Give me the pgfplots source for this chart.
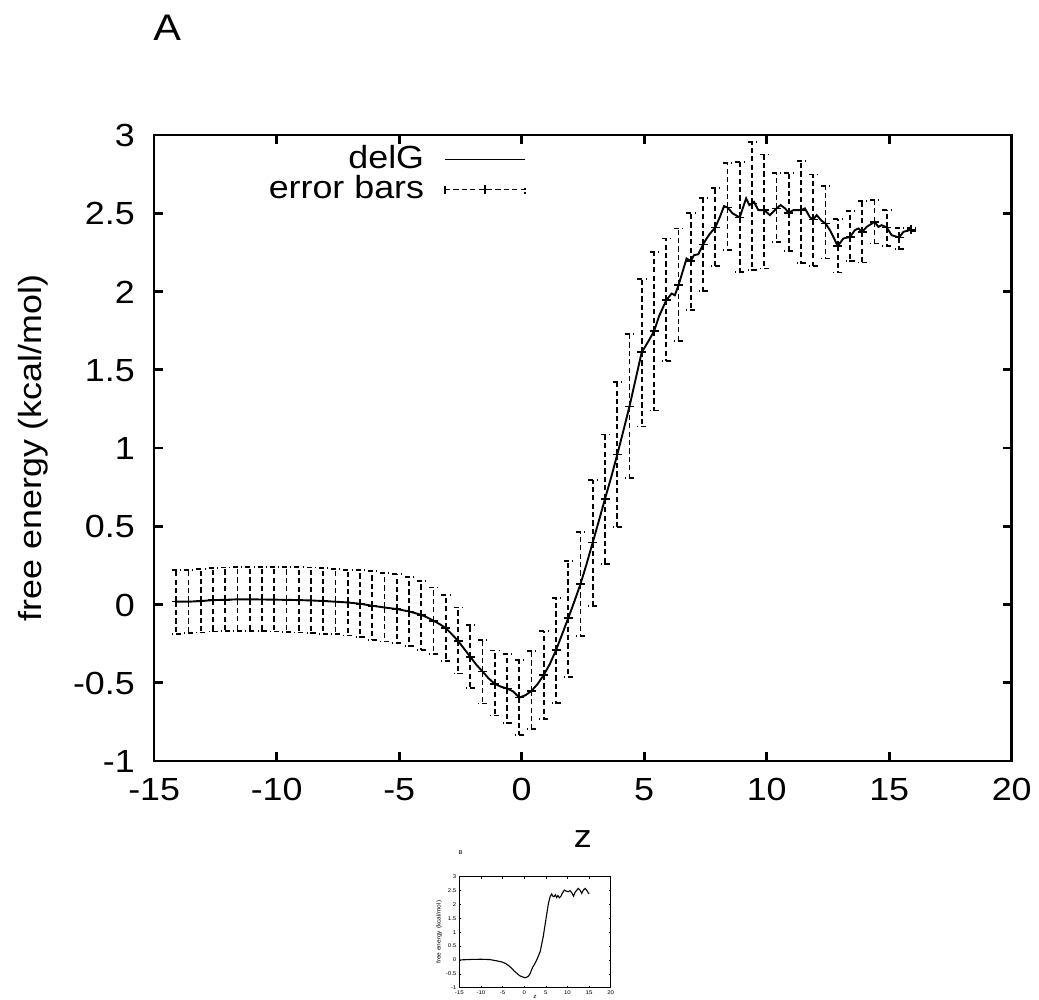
\documentclass[border=0pt]{standalone}
\usepackage{pgfplots}
\usepackage{pgfplotstable}
\usepackage{fontspec}
\setmainfont{Liberation Sans}[FakeStretch=1.12]
\pgfplotsset{compat=1.18}

\pgfplotstableread{
x y hi lo
-14.1 0.018 0.220 -0.189
-13.6 0.018 0.220 -0.183
-13.1 0.022 0.227 -0.179
-12.6 0.028 0.233 -0.172
-12.1 0.030 0.237 -0.170
-11.6 0.033 0.242 -0.168
-11.1 0.033 0.242 -0.168
-10.6 0.032 0.242 -0.170
-10.1 0.031 0.242 -0.172
-9.6 0.030 0.242 -0.174
-9.1 0.028 0.240 -0.179
-8.6 0.026 0.237 -0.181
-8.1 0.022 0.233 -0.187
-7.6 0.018 0.227 -0.191
-7.1 0.013 0.222 -0.198
-6.6 0.005 0.218 -0.210
-6.1 -0.008 0.212 -0.228
-5.6 -0.019 0.203 -0.236
-5.1 -0.029 0.195 -0.247
-4.6 -0.044 0.178 -0.266
-4.1 -0.066 0.152 -0.292
-3.6 -0.104 0.109 -0.317
-3.1 -0.151 0.060 -0.360
-2.6 -0.232 -0.019 -0.441
-2.1 -0.334 -0.130 -0.531
-1.6 -0.428 -0.228 -0.633
-1.1 -0.507 -0.294 -0.709
-0.6 -0.537 -0.317 -0.755
-0.1 -0.595 -0.356 -0.834
0.4 -0.552 -0.296 -0.797
0.9 -0.450 -0.168 -0.733
1.4 -0.292 0.043 -0.630
1.9 -0.087 0.280 -0.462
2.4 0.131 0.461 -0.200
2.9 0.397 0.796 -0.008
3.4 0.675 1.086 0.259
3.9 0.958 1.421 0.493
4.4 1.266 1.726 0.809
4.9 1.613 2.078 1.138
5.4 1.746 2.253 1.240
5.9 1.944 2.339 1.554
6.4 2.040 2.403 1.684
6.9 2.194 2.503 1.880
7.4 2.300 2.595 2.002
7.9 2.409 2.663 2.162
8.4 2.537 2.819 2.264
8.9 2.473 2.829 2.125
9.4 2.563 2.953 2.136
9.9 2.520 2.876 2.147
10.4 2.531 2.759 2.315
10.9 2.503 2.759 2.260
11.4 2.520 2.834 2.183
11.9 2.460 2.748 2.164
12.4 2.435 2.674 2.211
12.9 2.290 2.462 2.121
13.4 2.349 2.514 2.194
13.9 2.381 2.578 2.185
14.4 2.445 2.584 2.307
14.9 2.409 2.520 2.292
15.4 2.345 2.407 2.270
15.9 2.396 2.405 2.387
}\errtab

\pgfplotstableread{
x y
-14.1 0.018
-13.6 0.018
-13.1 0.022
-12.6 0.028
-12.1 0.030
-11.6 0.033
-11.1 0.033
-10.6 0.032
-10.1 0.031
-9.6 0.030
-9.1 0.028
-8.6 0.026
-8.1 0.022
-7.6 0.018
-7.1 0.013
-6.6 0.005
-6.1 -0.008
-5.6 -0.019
-5.1 -0.029
-4.6 -0.044
-4.1 -0.066
-3.85 -0.083
-3.6 -0.104
-3.35 -0.125
-3.1 -0.151
-2.85 -0.190
-2.6 -0.232
-2.35 -0.283
-2.1 -0.334
-1.85 -0.385
-1.6 -0.428
-1.35 -0.472
-1.1 -0.507
-0.85 -0.525
-0.6 -0.537
-0.35 -0.555
-0.1 -0.595
0.15 -0.580
0.4 -0.552
0.65 -0.508
0.9 -0.450
1.15 -0.380
1.4 -0.292
1.65 -0.190
1.9 -0.087
2.15 0.020
2.4 0.131
2.65 0.260
2.9 0.397
3.15 0.535
3.4 0.675
3.65 0.812
3.9 0.958
4.15 1.110
4.4 1.266
4.65 1.440
4.9 1.613
5.03 1.645
5.2 1.690
5.4 1.746
5.6 1.840
5.9 1.944
6.12 1.987
6.25 1.976
6.4 2.040
6.73 2.211
6.9 2.194
7.03 2.232
7.21 2.238
7.4 2.300
7.55 2.339
7.69 2.371
7.9 2.409
8.09 2.477
8.26 2.546
8.4 2.537
8.61 2.499
8.9 2.473
9.02 2.531
9.16 2.595
9.29 2.552
9.4 2.563
9.48 2.573
9.66 2.520
9.9 2.520
10.13 2.488
10.4 2.531
10.57 2.552
10.75 2.531
10.9 2.503
11.09 2.520
11.4 2.520
11.56 2.531
11.77 2.473
11.9 2.460
12.04 2.488
12.24 2.452
12.4 2.435
12.58 2.392
12.75 2.339
12.9 2.290
13.13 2.339
13.4 2.349
13.6 2.392
13.74 2.403
13.9 2.381
14.08 2.413
14.4 2.445
14.56 2.413
14.69 2.424
14.9 2.409
15.10 2.360
15.4 2.345
15.58 2.381
15.9 2.396
}\linetab

\pgfplotstableread{
x y
-15 0.0
-12 0.02
-10 0.025
-8 0.015
-6.4 -0.03
-5.2 -0.07
-4.4 -0.12
-3.6 -0.20
-2.9 -0.30
-2.3 -0.40
-1.7 -0.48
-1.1 -0.56
-0.6 -0.60
0.2 -0.64
0.6 -0.62
1.0 -0.58
1.4 -0.48
1.7 -0.36
2.0 -0.25
2.3 -0.18
2.9 0.0
3.7 0.30
4.4 0.84
5.0 1.44
5.6 2.04
6.0 2.28
6.35 2.38
6.6 2.30
6.9 2.28
7.2 2.35
7.5 2.25
7.8 2.32
8.1 2.24
8.5 2.30
8.8 2.40
9.3 2.52
9.7 2.48
10.2 2.46
10.6 2.50
11.0 2.42
11.4 2.30
11.8 2.45
12.2 2.52
12.5 2.58
12.9 2.52
13.3 2.40
13.7 2.52
14.1 2.58
14.5 2.50
14.8 2.42
15.0 2.38
}\insettab

\begin{document}
\begin{tikzpicture}
\node[anchor=north west, inner sep=0pt, font=\fontsize{18.5}{22}\selectfont] at (76.5pt,-7.5pt) {A};
\begin{axis}[
  at={(77.1pt,-380.5pt)}, anchor=south west,
  scale only axis, width=428.75pt, height=313pt,
  xmin=-15, xmax=20, ymin=-1, ymax=3,
  xtick={-15,-10,...,20},
  ytick={-1,-0.5,0,0.5,1,1.5,2,2.5,3},
  /pgf/number format/assume math mode=true,
  tick align=inside, major tick length=4.5pt,
  axis line style={line width=1.3pt},
  every tick/.style={black, line width=1.3pt},
  tick label style={font=\fontsize{16}{19}\selectfont, inner sep=0pt},
  xticklabel style={anchor=north, yshift=-8pt, text height=11.5pt, text depth=0pt},
  yticklabel style={anchor=east, xshift=-9.5pt, text height=11.5pt, text depth=0pt},
  xlabel={z},
  xlabel style={font=\fontsize{16}{19}\selectfont, at={(axis description cs:0.5,0)}, anchor=base, yshift=-43pt, inner sep=0pt},
  ylabel={free energy (kcal/mol)},
  ylabel style={font=\fontsize{16}{19}\selectfont, at={(axis description cs:-0.1318,0.5)}, anchor=base, inner sep=0pt},
  legend style={at={(axis description cs:0.4336,0.984)}, anchor=north east, draw=none, fill=none,
    inner sep=0pt, outer sep=0pt, row sep=3.5pt, column sep=10pt,
    font=\fontsize{16}{19}\selectfont,
    nodes={inner sep=0pt, text height=11.5pt, text depth=0pt}},
  legend cell align=right, legend plot pos=right,
]
\addplot[black, line width=0.95pt,
  legend image code/.code={\draw[black, line width=0.95pt] (0pt,-1.5pt) -- (40pt,-1.5pt);}]
  table[x=x, y=y] {\linetab};
\addlegendentry{delG}
\addplot[black, only marks, mark=+, mark size=2.25pt, mark options={solid, line width=0.8pt},
  legend image code/.code={
    \draw[black, line width=0.85pt, dash pattern=on 2.6pt off 1.6pt] (0pt,-1.5pt) -- (40pt,-1.5pt);
    \draw[black, line width=0.85pt] (0pt,-3.5pt) -- (0pt,0.5pt);
    \draw[black, line width=0.85pt, dash pattern=on 1pt off 1pt] (40pt,-3.5pt) -- (40pt,0.5pt);
    \draw[black, line width=0.8pt] (20pt,-3.75pt) -- (20pt,0.75pt);
    \draw[black, line width=0.8pt] (17.75pt,-1.5pt) -- (22.25pt,-1.5pt);
  },
  error bars/.cd, y dir=both, y explicit,
  error bar style={line width=0.9pt, dash pattern=on 2.6pt off 1.6pt},
  error mark options={black, line width=0.9pt, mark size=2.25pt, rotate=90, dash pattern=on 2.6pt off 1.6pt}]
  table[x=x, y=y, y error plus expr=\thisrow{hi}-\thisrow{y}, y error minus expr=\thisrow{y}-\thisrow{lo}] {\errtab};
\addlegendentry{error bars}
\end{axis}
\begin{axis}[
  at={(229.65pt,-493.85pt)}, anchor=south west,
  scale only axis, width=75.7pt, height=55.5pt,
  xmin=-15, xmax=20, ymin=-1, ymax=3,
  xtick={-15,-10,...,20},
  ytick={-1,-0.5,0,0.5,1,1.5,2,2.5,3},
  /pgf/number format/assume math mode=true,
  tick align=inside, major tick length=1pt,
  axis line style={line width=0.3pt},
  every tick/.style={black, line width=0.3pt},
  tick label style={font=\fontsize{2.7}{3.2}\selectfont, inner sep=0pt},
  xticklabel style={anchor=north, yshift=-1.1pt},
  yticklabel style={anchor=east, xshift=-1.3pt},
  xlabel={z},
  xlabel style={font=\fontsize{2.9}{3.4}\selectfont, at={(axis description cs:0.5,0)}, anchor=base, yshift=-5.4pt, inner sep=0pt},
  ylabel={free energy (kcal/mol)},
  ylabel style={font=\fontsize{2.9}{3.4}\selectfont, at={(axis description cs:-0.123,0.5)}, anchor=base, inner sep=0pt},
  title={B}, title style={font=\fontsize{2.7}{3.2}\selectfont, at={(axis description cs:0,1)}, anchor=south west, xshift=-0.6pt, yshift=5pt, inner sep=0pt},
]
\addplot[black, line width=0.55pt] table[x=x, y=y] {\insettab};
\end{axis}
\pgfresetboundingbox
\useasboundingbox (0pt,0pt) rectangle (519.5pt,-500pt);
\end{tikzpicture}
\end{document}
